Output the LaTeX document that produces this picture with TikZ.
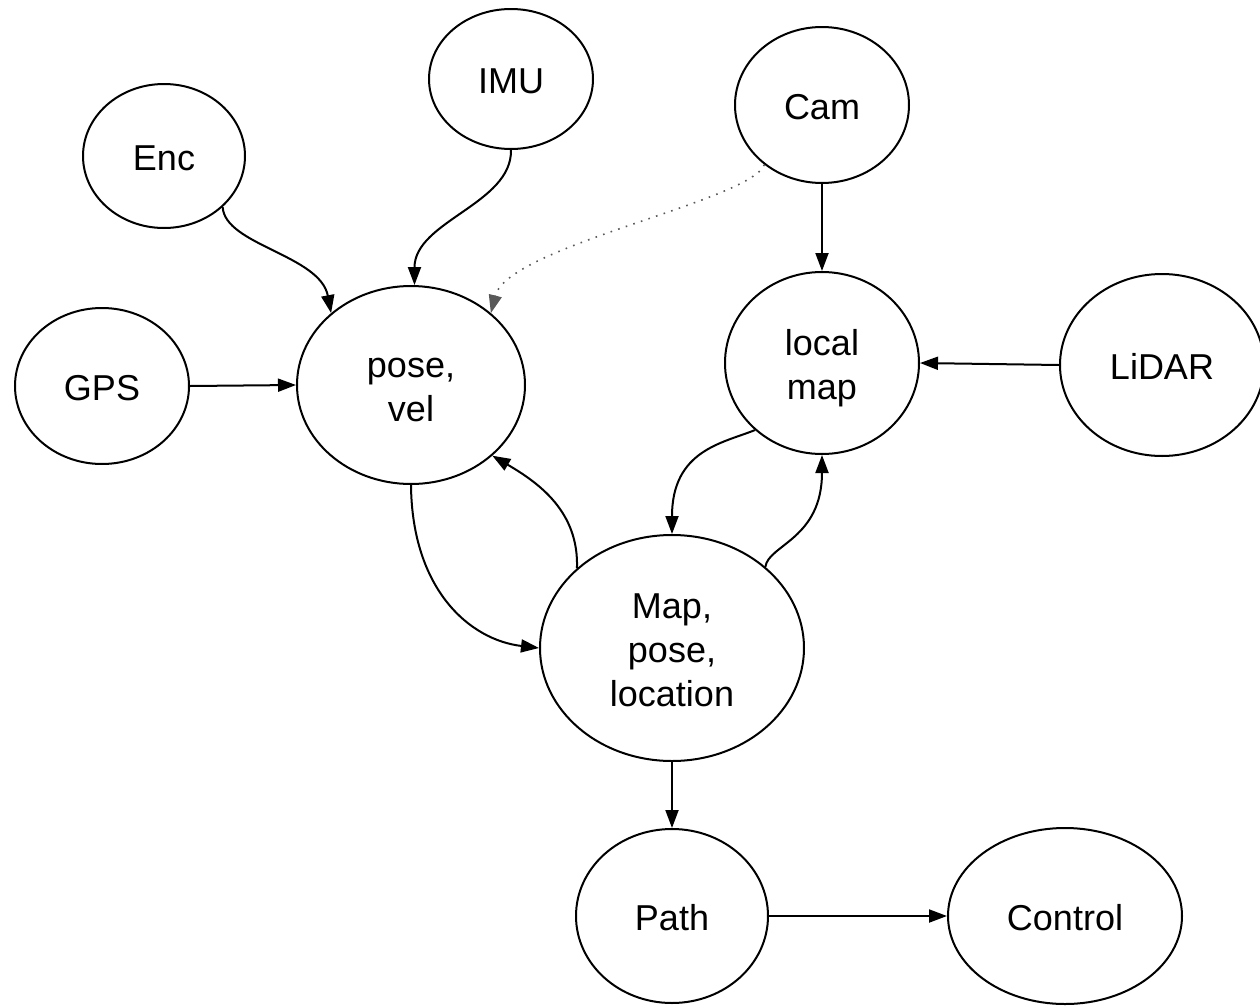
\documentclass[tikz,border=0pt]{standalone}
\usepackage{fontspec}
\setmainfont{Liberation Sans}
\usetikzlibrary{shapes.geometric,arrows.meta}
% every text line gets the same height and depth, so lines sit evenly in the ellipses
\newcommand{\linestrut}{\rule[-4pt]{0pt}{22pt}}
\tikzset{
  blob/.style={ellipse, draw, line width=1pt, inner sep=0pt, align=center,
    font=\fontsize{18}{22}\selectfont},
  flow/.style={draw, line width=1pt, -{Triangle[length=9pt,width=6.5pt]}},
  hint/.style={draw=black!65, line width=0.8pt, dash pattern=on 0.8pt off 3.2pt,
    -{Triangle[length=9pt,width=6.5pt]}},
}
\begin{document}
\begin{tikzpicture}[x=0.5pt, y=-0.5pt]
  \useasboundingbox (0,0) rectangle (1260,1007);

  % sensors
  \node[blob, minimum width=82pt, minimum height=70pt] (imu) at (511,79) {\linestrut IMU};
  \node[blob, minimum width=81pt, minimum height=72pt] (enc) at (164,156) {\linestrut Enc};
  \node[blob, minimum width=87pt, minimum height=78pt] (cam) at (822,105) {\linestrut Cam};
  \node[blob, minimum width=87pt, minimum height=78pt] (gps) at (102,386) {\linestrut GPS};
  \node[blob, minimum width=102pt, minimum height=91pt] (lidar) at (1162,365) {\linestrut LiDAR};

  % estimation and planning
  \node[blob, minimum width=114pt, minimum height=99pt] (pose) at (411,385)
    {\linestrut pose,\\\linestrut vel};
  \node[blob, minimum width=97pt, minimum height=91pt] (local) at (822,363)
    {\linestrut local\\\linestrut map};
  \node[blob, minimum width=132pt, minimum height=113pt] (map) at (672,648)
    {\linestrut Map,\\\linestrut pose,\\\linestrut location};
  \node[blob, minimum width=96pt, minimum height=87pt] (path) at (672,916) {\linestrut Path};
  \node[blob, minimum width=117pt, minimum height=88pt] (control) at (1065,916) {\linestrut Control};

  % connections
  \draw[flow] (enc.-41) .. controls +(2,38) and +(-11,-58) .. (pose.138);
  \draw[flow] (imu.south) .. controls +(1,54) and +(0,-64) .. (pose.88);
  \draw[flow] (gps.east) -- (pose.west);
  \draw[hint] (cam.-134) .. controls +(-15,37) and +(17,-67) .. (pose.42);
  \draw[flow] (cam.south) -- (local.north);
  \draw[flow] (lidar.west) -- (local.east);
  \draw[flow] (local.-135) .. controls +(-32,13) and +(0,-84) .. (map.north);
  \draw[flow] (map.41) .. controls +(3,-22) and +(0,84) .. (local.south);
  \draw[flow] (map.140) .. controls +(2,-57) and +(46,27) .. (pose.-41);
  \draw[flow] (pose.south) .. controls +(1,105) and +(-69,-8) .. (map.west);
  \draw[flow] (map.south) -- (path.north);
  \draw[flow] (path.east) -- (control.west);
\end{tikzpicture}
\end{document}
